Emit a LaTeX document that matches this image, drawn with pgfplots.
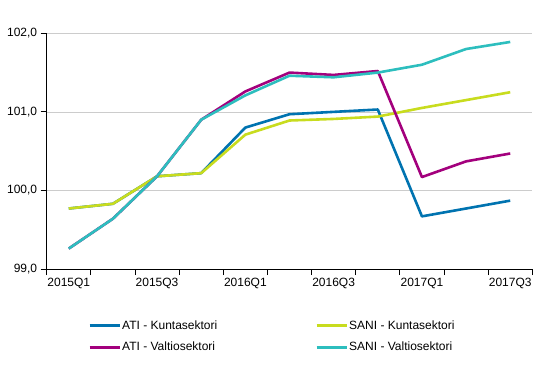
\documentclass[border=0pt]{standalone}
\usepackage{fontspec}
\setmainfont{Liberation Sans}
\usepackage{pgfplots}
\pgfplotsset{compat=1.18}
\definecolor{cblue}{RGB}{0,115,176}
\definecolor{cpurple}{RGB}{163,0,125}
\definecolor{clime}{RGB}{200,220,30}
\definecolor{cteal}{RGB}{45,190,190}
\begin{document}
\begin{tikzpicture}
\useasboundingbox (-46.7pt,-106pt) rectangle (494.3pt,269pt);
\begin{axis}[
  at={(0pt,0pt)}, anchor=south west,
  scale only axis, width=485.6pt, height=235.7pt,
  xmin=-0.5, xmax=10.5, ymin=99, ymax=102,
  axis x line*=bottom, axis y line*=left,
  axis line style={black, line width=0.8pt},
  xtick={-0.5,0.5,...,10.5},
  x tick label as interval,
  xticklabels={2015Q1,,2015Q3,,2016Q1,,2016Q3,,2017Q1,,2017Q3},
  ytick={99,100,101,102},
  tick align=outside, major tick length=6pt,
  tick style={black, line width=0.8pt},
  ymajorgrids, major grid style={gray!40, line width=0.5pt},
  /pgf/number format/assume math mode=true,
  yticklabel style={/pgf/number format/.cd, fixed, fixed zerofill, precision=1, use comma},
  every tick label/.append style={font=\fontsize{12}{14}\selectfont, text=black},
  legend columns=2,
  legend style={draw=none, fill=none, at={(0.085,-0.215)}, anchor=north west, inner sep=0pt,
    font=\fontsize{12}{14}\selectfont, row sep=9pt,
    nodes={inner sep=1pt}},
  legend cell align=left,
  legend image code/.code={\draw[#1, line width=3pt] (0pt,0pt) -- (30pt,0pt);},
  every axis plot/.append style={line width=2.6pt, line join=round},
]
\addplot[cblue] coordinates {(0,99.77) (1,99.83) (2,100.18) (3,100.22) (4,100.80) (5,100.97) (6,101.00) (7,101.03) (8,99.67) (9,99.77) (10,99.87)};
\addlegendentry{\makebox[192pt][l]{ATI - Kuntasektori}}
\addplot[clime] coordinates {(0,99.77) (1,99.83) (2,100.18) (3,100.22) (4,100.71) (5,100.89) (6,100.91) (7,100.94) (8,101.05) (9,101.15) (10,101.25)};
\addlegendentry{SANI - Kuntasektori}
\addplot[cpurple] coordinates {(0,99.26) (1,99.64) (2,100.18) (3,100.90) (4,101.26) (5,101.50) (6,101.47) (7,101.52) (8,100.17) (9,100.37) (10,100.47)};
\addlegendentry{\makebox[192pt][l]{ATI - Valtiosektori}}
\addplot[cteal] coordinates {(0,99.26) (1,99.64) (2,100.18) (3,100.90) (4,101.21) (5,101.46) (6,101.44) (7,101.50) (8,101.60) (9,101.80) (10,101.89)};
\addlegendentry{SANI - Valtiosektori}
\end{axis}
\end{tikzpicture}
\end{document}
